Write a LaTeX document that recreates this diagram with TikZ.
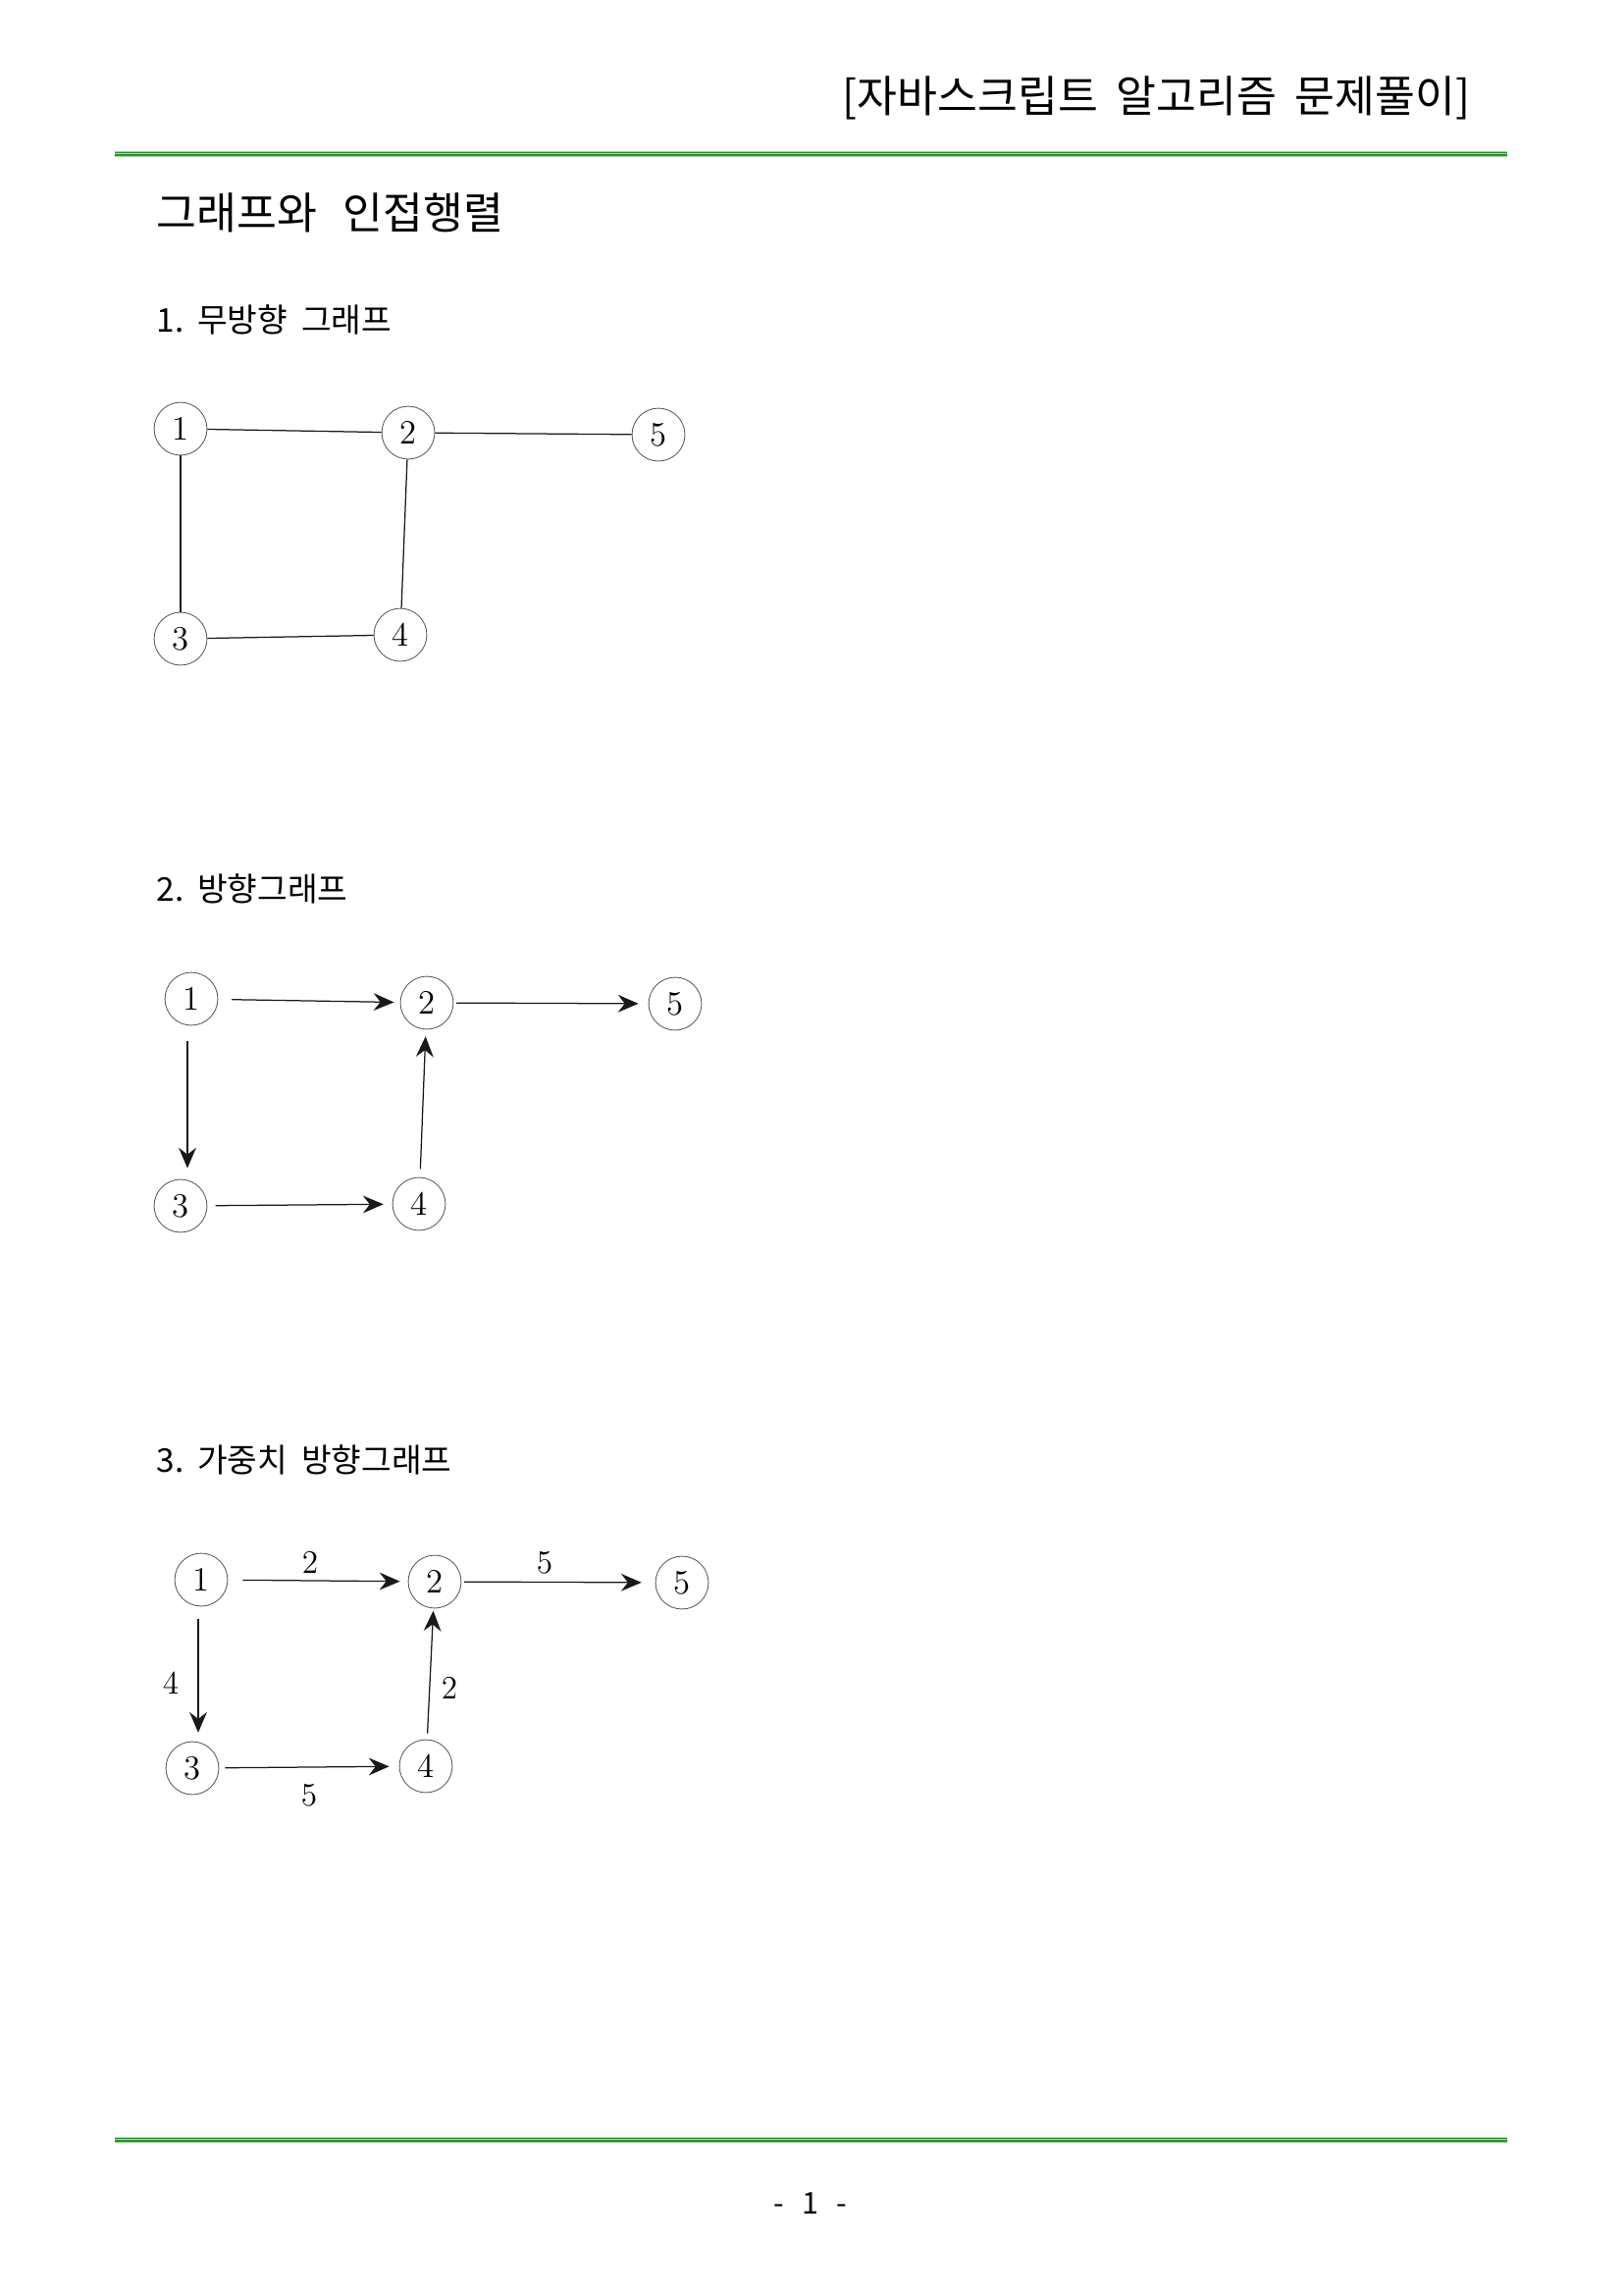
\documentclass[tikz,border=0pt]{standalone}
\usepackage{fontspec}
\newfontfamily\kr{Noto Sans CJK KR}
\usetikzlibrary{arrows.meta}
\definecolor{gdark}{RGB}{48,140,48}
\definecolor{glight}{RGB}{165,215,155}
\newcommand{\ksp}{\hspace{0.6em}}
\newcommand{\kssp}{\hspace{0.42em}}
\begin{document}
\begin{tikzpicture}[x=0.36pt,y=-0.36pt,
  vtx/.style={circle,draw=black!65,line width=0.3pt,minimum size=19.4pt,inner sep=0pt,font=\fontsize{12.5}{12.5}\selectfont},
  edge/.style={draw=black!90,line width=0.45pt},
  arc/.style={edge,-{Stealth[length=7.5pt,width=6.4pt,inset=2.5pt]}},
  wlab/.style={font=\fontsize{12}{12}\selectfont,inner sep=0pt},
  ktext/.style={font={\kr\fontsize{#1}{#1}\selectfont},inner sep=0pt,anchor=west}]
\useasboundingbox[fill=white] (0,0) rectangle (1654,2339);

% header
\node[ktext=16,anchor=east] (hdr) at (1499,100) {[자바스크립트\kssp 알고리즘\kssp 문제풀이]};
\fill[glight] (117,153.5) rectangle (1536,160);
\draw[gdark,line width=0.6pt] (117,155.4) -- (1536,155.4);
\draw[gdark,line width=0.6pt] (117,158.3) -- (1536,158.3);

% titles
\node[ktext=16] (ttl) at (159,217) {그래프와\ksp 인접행렬};
\node[ktext=12] (s1) at (159,326) {1.\kssp 무방향\kssp 그래프};
\node[ktext=12] (s2) at (159,906) {2.\kssp 방향그래프};
\node[ktext=12] (s3) at (159,1488) {3.\kssp 가중치\kssp 방향그래프};

% graph 1
\node[vtx] (a1) at (184,437) {1};
\node[vtx] (a2) at (416,441) {2};
\node[vtx] (a5) at (671,443) {5};
\node[vtx] (a3) at (184,651) {3};
\node[vtx] (a4) at (408,647) {4};
\draw[edge] (a1) -- (a2);
\draw[edge] (a2) -- (a5);
\draw[edge] (a1) -- (a3);
\draw[edge] (a2) -- (a4);
\draw[edge] (a3) -- (a4);

% graph 2
\node[vtx] (b1) at (195,1018) {1};
\node[vtx] (b2) at (435,1022) {2};
\node[vtx] (b5) at (688,1023) {5};
\node[vtx] (b3) at (184,1229) {3};
\node[vtx] (b4) at (427,1227) {4};
\coordinate (bx13) at (191,0);
\draw[arc,shorten <=5pt,shorten >=2.2pt] (b1) -- (b2);
\draw[arc,shorten <=1pt,shorten >=3.6pt] (b2) -- (b5);
\draw[arc,shorten <=5.5pt,shorten >=4pt] (bx13 |- b1.south) -- (bx13 |- b3.north);
\draw[arc,shorten <=3pt,shorten >=3.2pt] (b3) -- (b4);
\draw[arc,shorten <=3pt,shorten >=2.5pt] (b4) -- (b2);

% graph 3
\node[vtx] (c1) at (205,1610) {1};
\node[vtx] (c2) at (443,1612) {2};
\node[vtx] (c5) at (695,1613) {5};
\node[vtx] (c3) at (196,1802) {3};
\node[vtx] (c4) at (434,1800) {4};
\coordinate (cx13) at (202,0);
\draw[arc,shorten <=5.4pt,shorten >=2.9pt] (c1) -- (c2);
\draw[arc,shorten <=1pt,shorten >=5pt] (c2) -- (c5);
\draw[arc,shorten <=4.7pt,shorten >=3.2pt] (cx13 |- c1.south) -- (cx13 |- c3.north);
\draw[arc,shorten <=2.2pt,shorten >=3.6pt] (c3) -- (c4);
\draw[arc,shorten <=2.2pt,shorten >=0.8pt] (c4) -- (c2);
\node[wlab] (w12) at (316,1592) {2};
\node[wlab] (w25) at (555,1593) {5};
\node[wlab] (w13) at (174,1715) {4};
\node[wlab] (w42) at (458,1720) {2};
\node[wlab] (w34) at (315,1830) {5};

% footer
\fill[glight] (117,2177.5) rectangle (1536,2184);
\draw[gdark,line width=0.6pt] (117,2179.4) -- (1536,2179.4);
\draw[gdark,line width=0.6pt] (117,2182.3) -- (1536,2182.3);
\node[font={\kr\fontsize{11}{11}\selectfont},inner sep=0pt] (pg) at (826,2246) {-\hspace{0.6em}1\hspace{0.6em}-};
\end{tikzpicture}
\end{document}
